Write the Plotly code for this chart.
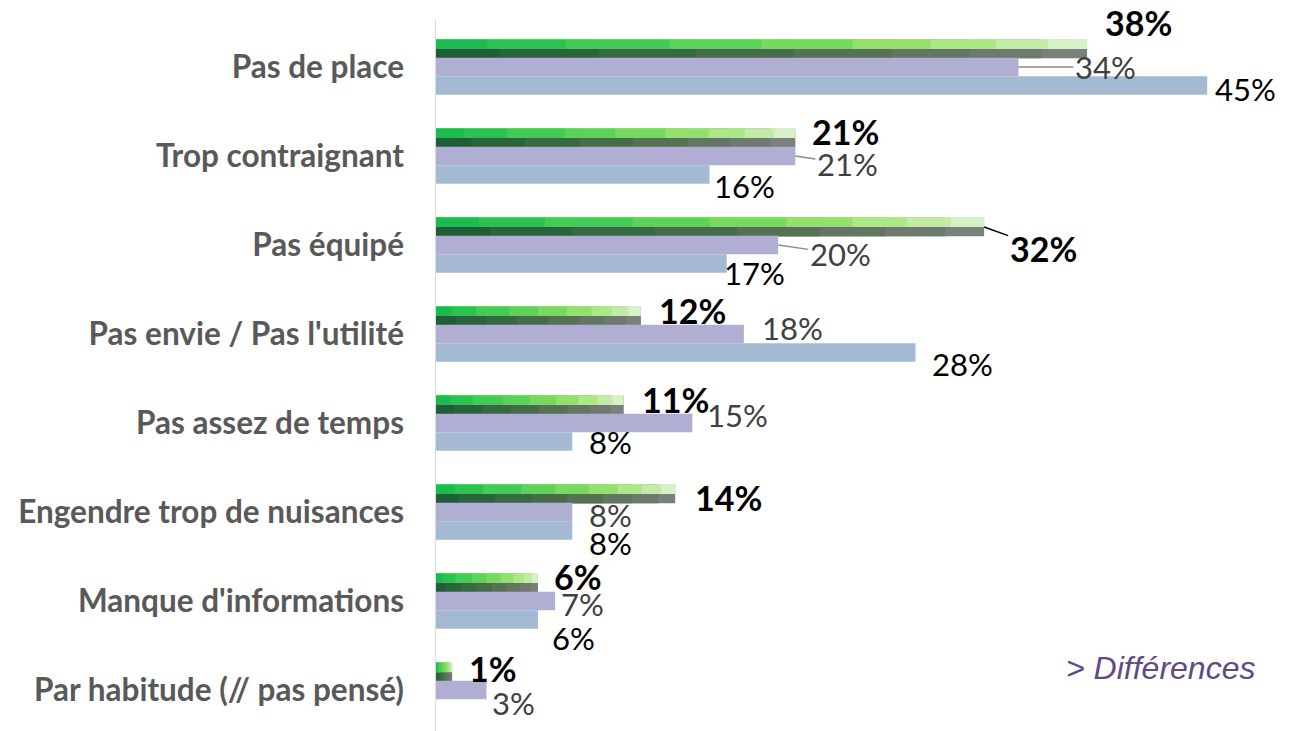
import plotly.graph_objects as go

categories = ["Pas de place", "Trop contraignant", "Pas équipé", "Pas envie / Pas l'utilité",
              "Pas assez de temps", "Engendre trop de nuisances", "Manque d'informations",
              "Par habitude (// pas pensé)"]
green_vals = [38, 21, 32, 12, 11, 14, 6, 1]
purple_vals = [34, 21, 20, 18, 15, 8, 7, 3]
blue_vals = [45, 16, 17, 28, 8, 8, 6, None]

# label placement (pixels from bar end / bar centre), leader flags
green_lbl = [(51, -27, 0), (50, -7, 0), (59, 21, 1), (52, -6, 0), (52, -6, 0), (53, 3, 0), (40, -7, 0), (41, -4, 0)]
purple_lbl = [(87, 0, 1), (52, 8, 1), (62, 9, 1), (49, -6, 0), (45, -8, 0), (38, 3, 0), (27, 3, 0), (27, 13, 0)]
blue_lbl = [(38, 3, 0), (35, 11, 0), (28, 9, 0), (47, 11, 0), (38, 0, 0), (38, 12, 0), (36, 18, 0), (0, 0, 0)]

idx = list(range(len(categories)))
W = 0.208
OFF = {"green": -0.306, "purple": -0.104, "blue": 0.104}

fig = go.Figure()
# green bevel effect: darker lower half and bright upper strip, each with a left-to-right tint
lower = [(1.0, "#7a807a"), (0.93, "#6f7a6e"), (0.82, "#637661"), (0.7, "#557252"),
         (0.55, "#456d47"), (0.4, "#366a40"), (0.25, "#28653a"), (0.1, "#1e5f35")]
upper = [(1.0, "#d8f2c8"), (0.94, "#c2eca6"), (0.86, "#abe886"), (0.76, "#92e16c"),
         (0.64, "#76da5d"), (0.5, "#5bd358"), (0.36, "#42cc56"), (0.2, "#2ac352"), (0.08, "#1bbb4f")]
for frac, col in lower:
    fig.add_trace(go.Bar(y=idx, x=[v * frac for v in green_vals], orientation="h", width=W,
                         offset=OFF["green"], marker=dict(color=col, line=dict(width=0)),
                         hoverinfo="skip"))
for frac, col in upper:
    fig.add_trace(go.Bar(y=idx, x=[v * frac for v in green_vals], orientation="h", width=W * 0.5,
                         offset=OFF["green"], marker=dict(color=col, line=dict(width=0)),
                         hoverinfo="skip"))
fig.add_trace(go.Bar(y=idx, x=purple_vals, orientation="h", width=W, offset=OFF["purple"],
                     marker=dict(color="#b1aed3", line=dict(width=0)), hoverinfo="x"))
fig.add_trace(go.Bar(y=idx, x=blue_vals, orientation="h", width=W, offset=OFF["blue"],
                     marker=dict(color="#a4bad3", line=dict(width=0)), hoverinfo="x"))

FONT = "Lato"
series = [
    (green_vals, green_lbl, OFF["green"], True, dict(family=FONT, size=34, color="#000000"), "#000000"),
    (purple_vals, purple_lbl, OFF["purple"], False, dict(family=FONT, size=31, color="#404040"), "#8c8c8c"),
    (blue_vals, blue_lbl, OFF["blue"], False, dict(family=FONT, size=31, color="#000000"), "#000000"),
]
for vals, lbls, off, bold, font, lc in series:
    for i, v in enumerate(vals):
        if v is None:
            continue
        dx, dy, lead = lbls[i]
        yc = i + off + W / 2
        text = f"<b>{v}%</b>" if bold else f"{v}%"
        if lead:
            fig.add_annotation(x=v, y=yc, xref="x", yref="y", text=text, showarrow=True,
                               arrowhead=0, arrowwidth=1.5, arrowcolor=lc, ax=dx, ay=dy,
                               font=font, standoff=0)
        else:
            fig.add_annotation(x=v, y=yc, xref="x", yref="y", text=text, showarrow=False,
                               xshift=dx, yshift=-dy, font=font, xanchor="center", yanchor="middle")

fig.add_annotation(x=47.9, y=6.75, xref="x", yref="y", text="<i>> Différences</i>",
                   showarrow=False, font=dict(family="Liberation Sans", size=32, color="#5f4a85"),
                   xanchor="right", yanchor="middle")

fig.add_shape(type="line", xref="x", yref="y", x0=0, x1=0, y0=-0.53, y1=7.6,
              line=dict(color="#d9d9d9", width=2))

fig.update_layout(
    width=1301, height=731,
    margin=dict(l=427, r=16, t=0, b=0),
    paper_bgcolor="#ffffff", plot_bgcolor="rgba(0,0,0,0)",
    barmode="overlay", showlegend=False,
    xaxis=dict(range=[0, 50], visible=False),
    yaxis=dict(range=[7.55, -0.663], tickvals=idx, ticktext=categories,
               tickfont=dict(family=FONT, size=31.5, color="#595959", weight="bold"),
               showgrid=False, zeroline=False, showline=False, ticks="",
               ticklabelstandoff=30),
)
fig.write_html("out.html")
